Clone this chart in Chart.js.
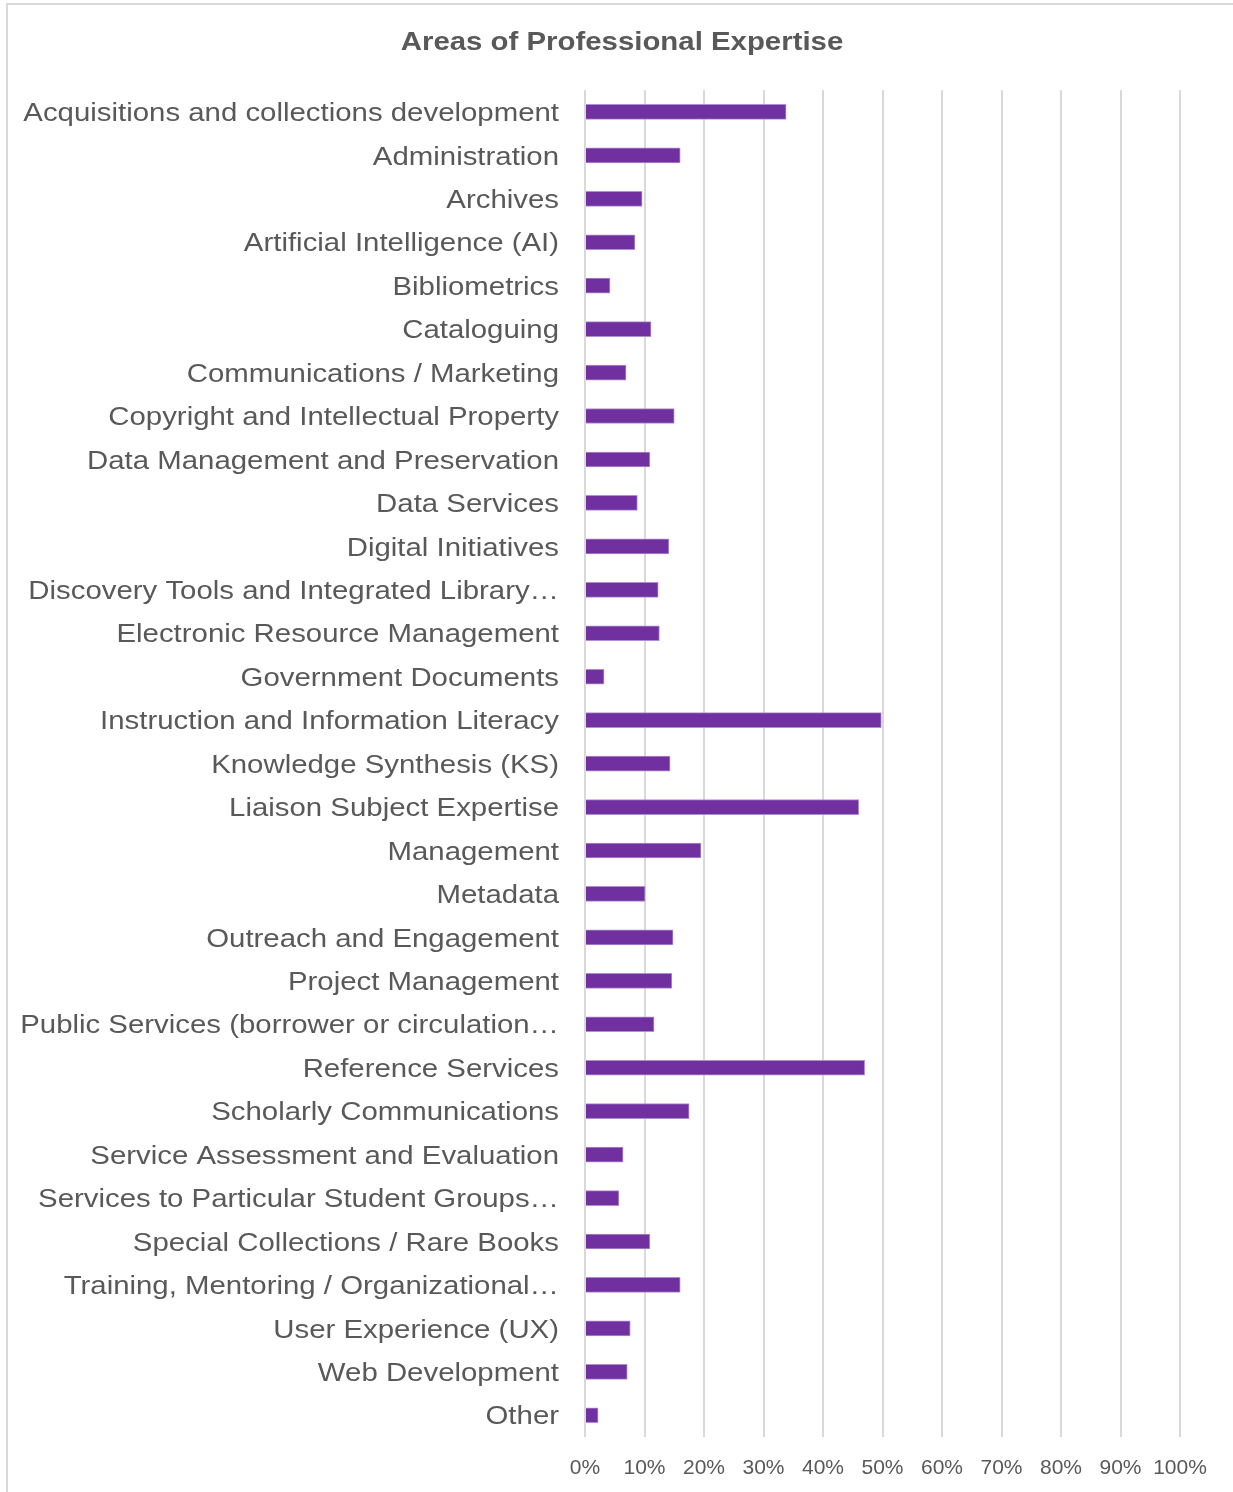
<!DOCTYPE html>
<html>
<head>
<meta charset="utf-8">
<script src="https://cdn.jsdelivr.net/npm/chart.js@4/dist/chart.umd.min.js"></script>
<style>
  html, body { margin: 0; padding: 0; background: #fff; overflow: hidden; }
  #frame { position: absolute; left: 6px; top: 3px; width: 1300px; height: 1600px; border: 2px solid #d9d9d9; }
  #chart { position: absolute; left: 0; top: 0; }
</style>
</head>
<body>
<div id="frame"></div>
<canvas id="chart" width="1233" height="1492"></canvas>
<script>
const categories = [
  "Acquisitions and collections development",
  "Administration",
  "Archives",
  "Artificial Intelligence (AI)",
  "Bibliometrics",
  "Cataloguing",
  "Communications / Marketing",
  "Copyright and Intellectual Property",
  "Data Management and Preservation",
  "Data Services",
  "Digital Initiatives",
  "Discovery Tools and Integrated Library\u2026",
  "Electronic Resource Management",
  "Government Documents",
  "Instruction and Information Literacy",
  "Knowledge Synthesis (KS)",
  "Liaison Subject Expertise",
  "Management",
  "Metadata",
  "Outreach and Engagement",
  "Project Management",
  "Public Services (borrower or circulation\u2026",
  "Reference Services",
  "Scholarly Communications",
  "Service Assessment and Evaluation",
  "Services to Particular Student Groups\u2026",
  "Special Collections / Rare Books",
  "Training, Mentoring / Organizational\u2026",
  "User Experience (UX)",
  "Web Development",
  "Other"
];

// percent of respondents
const values = [
  33.8, 16.0, 9.6, 8.4, 4.2, 11.1, 6.9, 15.0, 10.9, 8.8,
  14.1, 12.3, 12.5, 3.2, 49.8, 14.3, 46.0, 19.5, 10.1, 14.8,
  14.6, 11.6, 47.0, 17.5, 6.4, 5.7, 10.9, 16.0, 7.6, 7.1,
  2.2
];

const axisMax = 100;
const axisStep = 10;

Chart.defaults.font.family = "'Liberation Sans', Arial, sans-serif";

let ctx = document.getElementById("chart").getContext("2d");

let chart = new Chart(ctx, {
  type: 'bar',
  data: {
    labels: categories,
    datasets: [{
      data: values,
      backgroundColor: '#7030a0',
      borderColor: '#b08ed0',
      borderWidth: 1,
      barThickness: 15
    }]
  },
  options: {
    indexAxis: 'y',
    responsive: false,
    animation: false,
    devicePixelRatio: 1,
    layout: { padding: { left: 0, right: 53, top: 0, bottom: 0 } },
    plugins: {
      legend: { display: false },
      tooltip: { enabled: false },
      title: {
        display: true,
        text: 'Areas of Professional Expertise',
        color: '#595959',
        font: { size: 26, weight: 'bold' },
        padding: { top: 27, bottom: 32 }
      }
    },
    scales: {
      x: {
        min: 0,
        max: axisMax,
        ticks: {
          stepSize: axisStep,
          color: '#595959',
          font: { size: 21 },
          padding: 19,
          maxRotation: 0,
          callback: (v) => v + '%'
        },
        grid: { color: '#d9d9d9', lineWidth: 2, drawTicks: false },
        border: { display: false },
        afterFit: (scale) => { scale.height = 55; }
      },
      y: {
        ticks: {
          color: '#595959',
          font: { size: 26 },
          padding: 26,
          labelOffset: 2,
          autoSkip: false
        },
        grid: { display: false, drawTicks: false },
        border: { display: false },
        afterFit: (scale) => { scale.width = 585; }
      }
    }
  }
});

// the source text is drawn a little wider than Arial: stretch it sideways
const stretch = 1.13;

let ys = chart.scales.y;
let drawY = ys.drawLabels.bind(ys);
ys.drawLabels = function(area) {
  let edge = ys.right - 26;
  ctx.save();
  ctx.translate(edge, 0);
  ctx.scale(stretch, 1);
  ctx.translate(-edge, 0);
  drawY(area);
  ctx.restore();
};

let tb = chart.titleBlock;
let drawTitle = tb.draw.bind(tb);
tb.draw = function() {
  let mid = tb.left + tb.width / 2;
  ctx.save();
  ctx.translate(622, 0);
  ctx.scale(stretch, 1);
  ctx.translate(-mid, 0);
  drawTitle();
  ctx.restore();
};

chart.draw();
</script>
</body>
</html>
